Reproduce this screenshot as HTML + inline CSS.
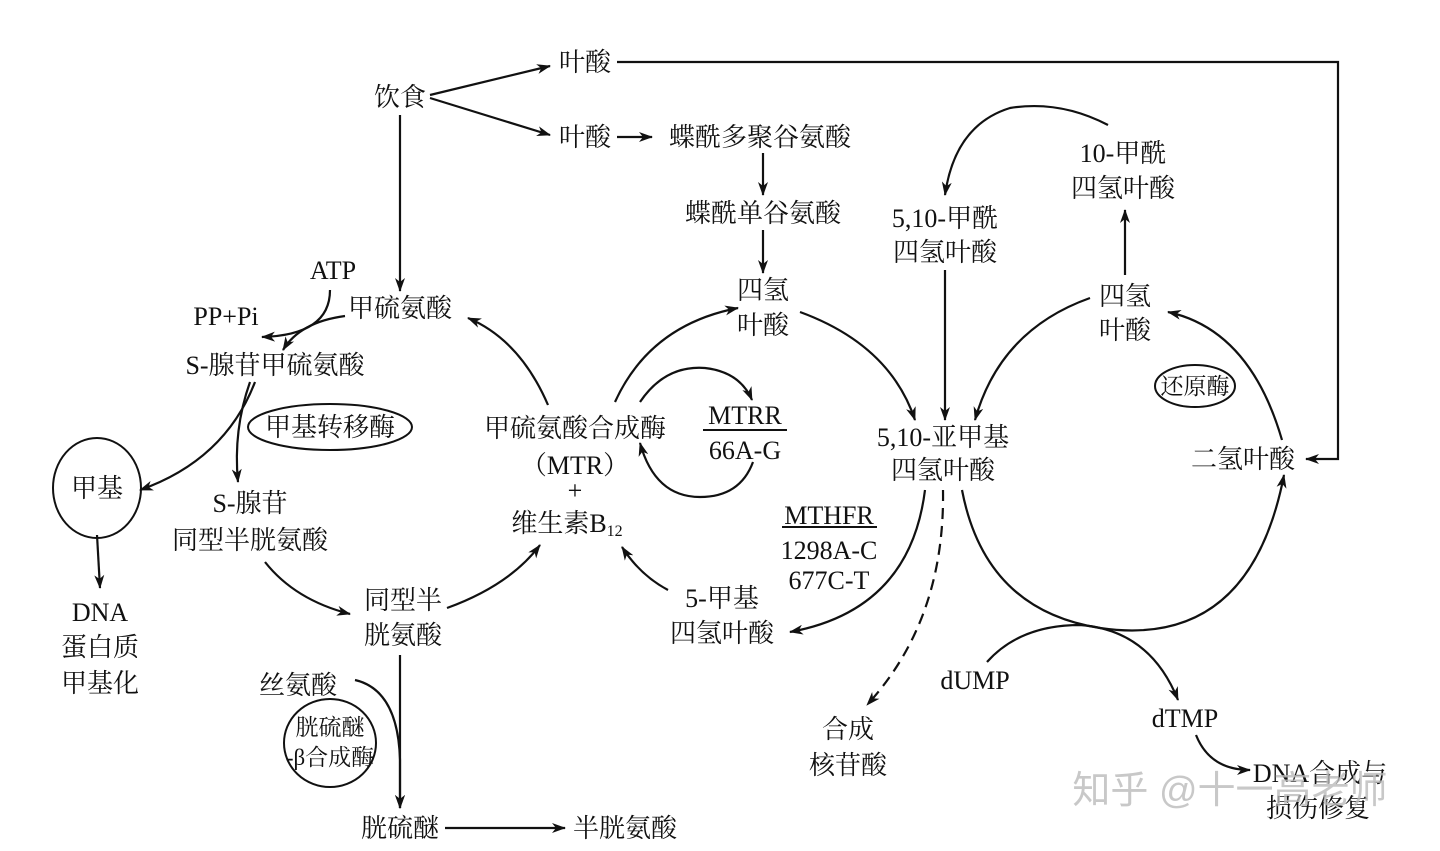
<!DOCTYPE html>
<html><head><meta charset="utf-8"><style>
html,body{margin:0;padding:0;background:#fff;}
svg{display:block}
text{font-family:"Liberation Serif","Noto Serif CJK SC","Noto Sans CJK SC",serif;font-size:26px;fill:#111;text-anchor:middle;}
</style></head><body>
<svg width="1440" height="851" viewBox="0 0 1440 851" xmlns="http://www.w3.org/2000/svg">
<defs><marker id="a" markerWidth="14" markerHeight="10" refX="13" refY="5" orient="auto" markerUnits="userSpaceOnUse"><path d="M0,0 L14,5 L0,10 L4,5 Z" fill="#111"/></marker></defs>
<g fill="none" stroke="#111" stroke-width="2.2" marker-end="url(#a)">
<path d="M430,95 L550,66"/>
<path d="M430,98 L550,135"/>
<path d="M617,137 L652,137"/>
<path d="M617,62 L1338,62 L1338,459 L1306,459"/>
<path d="M763,153 L763,195"/>
<path d="M763,230 L763,273"/>
<path d="M400,115 L400,291"/>
<path d="M330,290 Q330,335 262,337"/>
<path d="M345,316 Q300,322 283,350"/>
<path d="M255,382 Q225,460 140,490"/>
<path d="M250,382 Q233,430 238,482"/>
<path d="M265,562 Q295,600 350,614"/>
<path d="M447,608 Q510,585 540,545"/>
<path d="M548,405 Q520,340 468,318"/>
<path d="M615,402 Q650,325 738,308"/>
<path d="M640,402 Q665,365 705,368 Q740,372 752,400"/>
<path d="M753,462 Q740,497 700,497 Q655,497 640,443"/>
<path d="M668,590 Q640,575 622,547"/>
<path d="M800,312 Q890,345 915,420"/>
<path d="M945,270 L945,420"/>
<path d="M1108,125 Q1060,100 1010,108 Q955,125 945,195"/>
<path d="M1125,275 L1125,210"/>
<path d="M1090,298 Q1000,330 975,420"/>
<path d="M1282,440 Q1250,330 1168,312"/>
<path d="M962,490 Q985,610 1100,628 Q1250,650 1284,475"/>
<path d="M987,662 Q1020,625 1080,625 Q1150,630 1178,700"/>
<path d="M1196,735 Q1210,770 1250,770"/>
<path d="M355,680 Q398,690 400,760 L400,808"/>
<path d="M400,655 L400,808"/>
<path d="M445,828 L565,828"/>
<path d="M97,535 L100,588"/>
<path d="M925,490 Q910,610 790,632"/>
<path d="M943,490 Q945,620 867,705" stroke-dasharray="11,7"/>
</g>
<g fill="none" stroke="#111" stroke-width="2">
<ellipse cx="330" cy="427" rx="82" ry="23"/>
<ellipse cx="97" cy="488" rx="44" ry="50"/>
<ellipse cx="330" cy="743" rx="46" ry="44"/>
<ellipse cx="1195" cy="386" rx="40" ry="21"/>
<line x1="703" y1="430" x2="787" y2="430"/>
<line x1="782" y1="527" x2="877" y2="527"/>
</g>
<text x="400" y="106">饮食</text>
<text x="585" y="71">叶酸</text>
<text x="585" y="146">叶酸</text>
<text x="760" y="146">蝶酰多聚谷氨酸</text>
<text x="763" y="222">蝶酰单谷氨酸</text>
<text x="763" y="299">四氢</text>
<text x="763" y="334">叶酸</text>
<text x="333" y="279">ATP</text>
<text x="226" y="325">PP+Pi</text>
<text x="400" y="317">甲硫氨酸</text>
<text x="275" y="374">S-腺苷甲硫氨酸</text>
<text x="330" y="436">甲基转移酶</text>
<text x="97" y="497">甲基</text>
<text x="100" y="621">DNA</text>
<text x="100" y="656">蛋白质</text>
<text x="100" y="692">甲基化</text>
<text x="250" y="512">S-腺苷</text>
<text x="250" y="549">同型半胱氨酸</text>
<text x="403" y="609">同型半</text>
<text x="403" y="644">胱氨酸</text>
<text x="298" y="694">丝氨酸</text>
<text x="330" y="735" style="font-size:23px">胱硫醚</text>
<text x="330" y="765" style="font-size:23px">-β合成酶</text>
<text x="400" y="837">胱硫醚</text>
<text x="625" y="837">半胱氨酸</text>
<text x="575" y="437">甲硫氨酸合成酶</text>
<text x="575" y="474">（MTR）</text>
<text x="575" y="499">+</text>
<text x="567" y="532">维生素B<tspan font-size="16" dy="4">12</tspan></text>
<text x="745" y="424">MTRR</text>
<text x="745" y="459">66A-G</text>
<text x="722" y="607">5-甲基</text>
<text x="722" y="642">四氢叶酸</text>
<text x="829" y="524">MTHFR</text>
<text x="829" y="559">1298A-C</text>
<text x="829" y="589">677C-T</text>
<text x="945" y="227">5,10-甲酰</text>
<text x="945" y="261">四氢叶酸</text>
<text x="1123" y="162">10-甲酰</text>
<text x="1123" y="197">四氢叶酸</text>
<text x="1125" y="305">四氢</text>
<text x="1125" y="339">叶酸</text>
<text x="1195" y="394" style="font-size:23px">还原酶</text>
<text x="943" y="446">5,10-亚甲基</text>
<text x="943" y="479">四氢叶酸</text>
<text x="1243" y="468">二氢叶酸</text>
<text x="975" y="689">dUMP</text>
<text x="1185" y="727">dTMP</text>
<text x="848" y="738">合成</text>
<text x="848" y="774">核苷酸</text>
<text x="1320" y="782">DNA合成与</text>
<text x="1318" y="817">损伤修复</text>
<text x="1230" y="803" style="font-family:'Liberation Sans','Noto Sans CJK SC',sans-serif;font-size:38px;fill:#bbb;opacity:0.8">知乎 @十一高老师</text>
</svg>
</body></html>
